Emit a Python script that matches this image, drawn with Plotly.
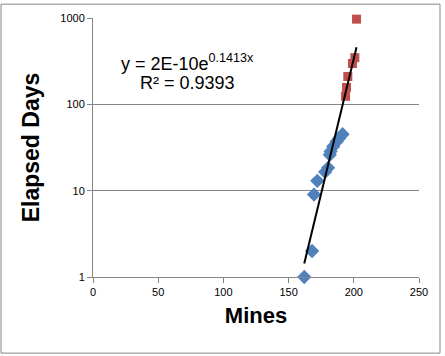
import numpy as np
import plotly.graph_objects as go

# Data
blue_mines = [162, 168, 169.5, 172, 178, 180.3, 181.6, 182.2, 184.2, 186.8, 188.8, 191.4]
blue_days = [1, 2, 9, 13, 16.5, 18.4, 26, 28.5, 32.5, 37, 40.4, 45]
red_mines = [193.7, 194.4, 195.4, 199, 200.8, 202.1]
red_days = [124, 157, 210, 297, 347, 970]

x_ticks = [0, 50, 100, 150, 200, 250]
y_ticks = [1, 10, 100, 1000]
eq_text = "y = 2E-10e<sup>0.1413x</sup>"
r2_text = "R² = 0.9393"

# Exponential trendline fitted to all points
all_x = np.array(blue_mines + red_mines)
all_y = np.array(blue_days + red_days)
b, ln_a = np.polyfit(all_x, np.log(all_y), 1)
tx = np.array([all_x.min(), all_x.max()])
ty = np.exp(ln_a) * np.exp(b * tx)

fig = go.Figure()
fig.add_trace(go.Scatter(x=blue_mines, y=blue_days, mode="markers", cliponaxis=False,
                         marker=dict(symbol="diamond", color="#4F81BD", size=11),
                         showlegend=False))
fig.add_trace(go.Scatter(x=red_mines, y=red_days, mode="markers", cliponaxis=False,
                         marker=dict(symbol="square", color="#C0504D", size=9),
                         showlegend=False))
fig.add_trace(go.Scatter(x=tx, y=ty, mode="lines",
                         line=dict(color="black", width=2), showlegend=False))

W, H = 445, 356
L, R, T, B = 93, 26, 15, 79
PW, PH = W - L - R, H - T - B


def px(xp):
    return (xp - L) / PW


def py(yp):
    return (H - B - yp) / PH


font_family = "Liberation Sans, Arial, sans-serif"
fig.update_layout(
    width=W, height=H,
    margin=dict(l=L, r=R, t=T, b=B),
    paper_bgcolor="white", plot_bgcolor="white",
    font=dict(family=font_family, color="black"),
    xaxis=dict(range=[0, 250], tickvals=x_ticks, showgrid=False,
               showline=True, linecolor="#868686", linewidth=1,
               ticks="outside", ticklen=5, tickcolor="#868686",
               tickfont=dict(size=11), zeroline=False,
               title=dict(text="<b>Mines</b>", font=dict(size=22), standoff=10)),
    yaxis=dict(type="log", range=[0, 3], tickvals=y_ticks, ticktext=[str(v) for v in y_ticks],
               showgrid=True, gridcolor="#868686", gridwidth=1,
               showline=True, linecolor="#868686", linewidth=1,
               ticks="outside", ticklen=5, tickcolor="#868686",
               tickfont=dict(size=11), zeroline=False,
               title=dict(text="<b>Elapsed Days</b>", font=dict(size=23), standoff=14)),
    annotations=[
        dict(text=eq_text, xref="paper", yref="paper", x=px(187), y=py(60),
             showarrow=False, font=dict(size=18), xanchor="center", yanchor="middle"),
        dict(text=r2_text, xref="paper", yref="paper", x=px(187), y=py(81),
             showarrow=False, font=dict(size=18), xanchor="center", yanchor="middle"),
    ],
    shapes=[dict(type="rect", xref="paper", yref="paper",
                 x0=px(1), x1=px(440), y0=py(354), y1=py(1),
                 line=dict(color="#868686", width=1))],
)
fig.write_html("out.html", config={"displayModeBar": False},
               post_script="document.body.style.margin='0';document.body.style.overflow='hidden';")
